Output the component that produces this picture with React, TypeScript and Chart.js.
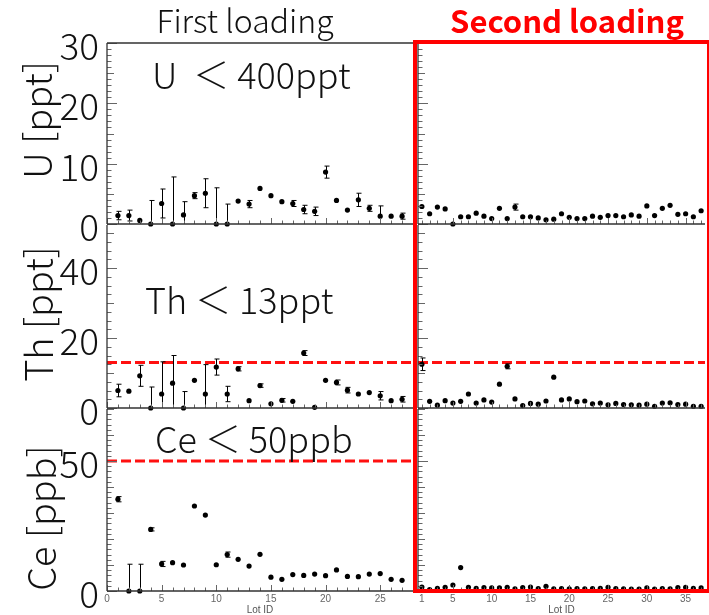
import React, { useEffect, useRef } from 'react';
import { Chart, registerables } from 'chart.js';

Chart.register(...registerables);

const W = 709;
const H = 615;
const FONT = '"Noto Sans CJK JP", "Noto Sans", sans-serif';
const SMALL_FONT = '"Liberation Sans", Arial, sans-serif';

// ---- categories ----
const lotsFirst = [1, 2, 3, 4, 5, 6, 7, 8, 9, 10, 11, 12, 13, 14, 15, 16, 17, 18, 19, 20, 21, 22, 23, 24, 25, 26, 27];
const lotsSecond = [1, 2, 3, 4, 5, 6, 7, 8, 9, 10, 11, 12, 13, 14, 15, 16, 17, 18, 19, 20, 21, 22, 23, 24, 25, 26, 27, 28, 29, 30, 31, 32, 33, 34, 35, 36, 37];

// ---- tick labels ----
const xTickLabelsFirst = [0, 5, 10, 15, 20, 25];
const xTickLabelsSecond = [1, 5, 10, 15, 20, 25, 30, 35];
const uTickLabels = [0, 10, 20, 30];
const thTickLabels = [0, 20, 40];
const ceTickLabels = [0, 50];

// ---- limits ----
const thLimit = 13;
const ceLimit = 50;

// ---- U [ppt] ----
const uFirst = [1.4, 1.4, 0.6, 0, 3.4, 0, 1.5, 4.7, 5.1, 0, 0, 3.8, 3.3, 5.9, 4.7, 3.7, 3.4, 2.4, 2.1, 8.6, 3.9, 2.3, 4.0, 2.6, 1.3, 1.3, 1.3];
const uFirstErr = [0.7, 0.9, 0, 3.9, 2.4, 7.8, 2.2, 0.5, 2.4, 6.0, 3.3, 0, 0.6, 0, 0, 0, 0.5, 0.7, 0.7, 1.0, 0, 0, 1.1, 0.5, 1.7, 0, 0.5];
const uSecond = [2.9, 1.7, 2.8, 2.5, 0, 1.2, 1.2, 1.8, 1.3, 0.9, 2.6, 0.9, 2.8, 1.2, 1.2, 1.0, 0.7, 0.8, 1.7, 1.1, 0.9, 0.9, 1.3, 1.1, 1.4, 1.4, 1.2, 1.5, 1.3, 3.0, 1.4, 2.6, 3.1, 1.6, 1.7, 1.2, 2.2];
const uSecondErr = [0, 0, 0, 0, 0, 0, 0, 0, 0, 0, 0, 0, 0.5, 0, 0, 0, 0, 0, 0, 0, 0, 0, 0, 0, 0, 0, 0, 0, 0, 0, 0, 0, 0, 0, 0, 0, 0];

// ---- Th [ppt] ----
const thFirst = [5.0, 4.8, 9.2, 0, 4.0, 7.1, 0, 7.9, 4.0, 11.7, 4.0, 11.2, 2.1, 6.4, 1.2, 2.2, 1.9, 15.7, 0.2, 7.9, 7.3, 5.1, 4.0, 4.4, 3.5, 2.1, 2.5];
const thFirstErr = [1.8, 0, 3.0, 6.0, 9.2, 7.9, 4.7, 0, 8.4, 2.3, 2.2, 0.6, 0, 0.5, 0, 0.5, 0, 0.7, 0, 0, 0.7, 0.8, 0, 0, 1.2, 0, 0.8];
const thSecond = [12.5, 1.9, 0.8, 2.1, 1.4, 1.9, 4.0, 1.4, 2.3, 1.7, 6.8, 11.9, 2.6, 0.7, 1.3, 1.1, 2.0, 8.8, 2.3, 2.6, 1.8, 2.0, 1.2, 1.4, 0.9, 1.3, 1.0, 0.9, 0.8, 1.1, 0.5, 1.4, 1.5, 1.0, 1.1, 0.5, 0.5];
const thSecondErr = [1.8, 0, 0, 0, 0, 0, 0, 0, 0, 0, 0, 0.7, 0, 0, 0, 0, 0, 0, 0, 0, 0, 0, 0, 0, 0, 0, 0, 0, 0, 0, 0, 0, 0, 0, 0, 0, 0];

// ---- Ce [ppb] ----
const ceFirst = [35.3, 0, 0, 23.7, 10.4, 10.9, 10.0, 32.7, 29.2, 10.1, 14.0, 12.2, 9.6, 14.1, 5.3, 4.5, 6.3, 6.0, 6.5, 5.9, 8.1, 5.6, 5.5, 6.5, 6.7, 4.5, 4.1];
const ceFirstErr = [1.0, 10.3, 10.3, 0.6, 1.0, 0, 0, 0, 0, 0, 1.0, 0, 0, 0, 0, 0, 0, 0, 0, 0, 0, 0, 0, 0, 0, 0, 0];
const ceSecond = [1.5, 0.5, 1.0, 1.4, 2.3, 9.0, 1.4, 1.0, 1.3, 1.2, 1.2, 1.4, 0.8, 1.3, 1.5, 0.9, 1.8, 0.8, 0.9, 0.8, 0.9, 0.8, 0.9, 1.0, 1.4, 0.9, 0.8, 0.7, 0.7, 1.2, 0.7, 0.9, 0.8, 1.3, 1.4, 1.0, 1.2];
const ceSecondErr = [0, 0, 0, 0, 0, 0, 0, 0, 0, 0, 0, 0, 0, 0, 0, 0, 0, 0, 0, 0, 0, 0, 0, 0, 0, 0, 0, 0, 0, 0, 0, 0, 0, 0, 0, 0, 0];

// ---- layout (pixels of the plot areas) ----
const ROWS = [
  { top: 43, bottom: 224 },
  { top: 225, bottom: 408 },
  { top: 409, bottom: 591 },
];
const COLS = [
  { left: 107, right: 413, xMin: 0, xMax: 28 },
  { left: 418, right: 709, xMin: 0.5, xMax: 37.5 },
];

type PanelSpec = {
  col: number;
  row: number;
  lots: number[];
  values: number[];
  errors: number[];
  yMax: number;
  yLabels: number[];
  yMinor: number;
  yMid: number;
  yMajor: number;
  xLabels: number[];
  limit?: number;
};

const PANELS: PanelSpec[] = [
  { col: 0, row: 0, lots: lotsFirst, values: uFirst, errors: uFirstErr, yMax: 30, yLabels: uTickLabels, yMinor: 1, yMid: 5, yMajor: 10, xLabels: xTickLabelsFirst },
  { col: 1, row: 0, lots: lotsSecond, values: uSecond, errors: uSecondErr, yMax: 30, yLabels: uTickLabels, yMinor: 1, yMid: 5, yMajor: 10, xLabels: xTickLabelsSecond },
  { col: 0, row: 1, lots: lotsFirst, values: thFirst, errors: thFirstErr, yMax: 52.3, yLabels: thTickLabels, yMinor: 2.5, yMid: 10, yMajor: 20, xLabels: xTickLabelsFirst, limit: thLimit },
  { col: 1, row: 1, lots: lotsSecond, values: thSecond, errors: thSecondErr, yMax: 52.3, yLabels: thTickLabels, yMinor: 2.5, yMid: 10, yMajor: 20, xLabels: xTickLabelsSecond, limit: thLimit },
  { col: 0, row: 2, lots: lotsFirst, values: ceFirst, errors: ceFirstErr, yMax: 70, yLabels: ceTickLabels, yMinor: 2, yMid: 10, yMajor: 50, xLabels: xTickLabelsFirst, limit: ceLimit },
  { col: 1, row: 2, lots: lotsSecond, values: ceSecond, errors: ceSecondErr, yMax: 70, yLabels: ceTickLabels, yMinor: 2, yMid: 10, yMajor: 50, xLabels: xTickLabelsSecond },
];

const errorBarPlugin = {
  id: 'errorBars',
  afterDatasetsDraw(chart: any) {
    const ctx = chart.ctx;
    chart.data.datasets.forEach((ds: any, i: number) => {
      if (!ds.errors) return;
      const meta = chart.getDatasetMeta(i);
      const ys = chart.scales[meta.yAxisID];
      ctx.save();
      ctx.strokeStyle = '#000';
      ctx.lineWidth = 1;
      meta.data.forEach((pt: any, j: number) => {
        const e = ds.errors[j];
        if (!e) return;
        const v = ds.data[j].y;
        const lo = Math.max(ys.min, v - e);
        const hi = Math.min(ys.max, v + e);
        const x = Math.round(pt.x) + 0.5;
        const y1 = ys.getPixelForValue(lo);
        const y2 = ys.getPixelForValue(hi);
        ctx.beginPath();
        ctx.moveTo(x, y1);
        ctx.lineTo(x, y2);
        ctx.moveTo(x - 2, y2);
        ctx.lineTo(x + 3, y2);
        if (lo > ys.min) {
          ctx.moveTo(x - 2, y1);
          ctx.lineTo(x + 3, y1);
        }
        ctx.stroke();
      });
      ctx.restore();
    });
  },
};

const framePlugin = {
  id: 'rootFrame',
  afterDatasetsDraw(chart: any, _args: any, opts: any) {
    const { ctx, chartArea: a } = chart;
    const xs = chart.scales.x;
    const ys = chart.scales.y;
    ctx.save();
    ctx.strokeStyle = '#666';
    ctx.lineWidth = 1;
    ctx.beginPath();
    for (let v = Math.ceil(xs.min); v <= xs.max + 1e-9; v += 1) {
      const px = Math.round(xs.getPixelForValue(v)) + 0.5;
      const len = v % 5 === 0 ? 6 : 3.5;
      ctx.moveTo(px, a.bottom);
      ctx.lineTo(px, a.bottom - len);
    }
    const n = Math.floor((ys.max - ys.min) / opts.yMinor + 1e-6);
    for (let k = 0; k <= n; k++) {
      const v = ys.min + k * opts.yMinor;
      const py = Math.round(ys.getPixelForValue(v)) + 0.5;
      const isMajor = Math.abs(v / opts.yMajor - Math.round(v / opts.yMajor)) < 1e-6;
      const isMid = Math.abs(v / opts.yMid - Math.round(v / opts.yMid)) < 1e-6;
      const len = isMajor ? 10 : isMid ? 7 : 4.5;
      ctx.moveTo(a.left, py);
      ctx.lineTo(a.left + len, py);
    }
    ctx.stroke();
    ctx.strokeStyle = '#333';
    ctx.lineWidth = 1.3;
    ctx.beginPath();
    ctx.moveTo(a.left, a.bottom);
    ctx.lineTo(a.right, a.bottom);
    ctx.moveTo(a.left, a.top);
    ctx.lineTo(a.left, a.bottom);
    if (opts.top) {
      ctx.moveTo(a.left, a.top);
      ctx.lineTo(a.right, a.top);
    }
    ctx.stroke();
    ctx.restore();
  },
};

function buildConfig(p: PanelSpec): any {
  const c = COLS[p.col];
  const r = ROWS[p.row];
  const isLeft = p.col === 0;
  const isBottom = p.row === 2;
  const datasets: any[] = [
    {
      type: 'scatter',
      data: p.lots.map((l, i) => ({ x: l, y: p.values[i] })),
      errors: p.errors,
      pointRadius: 2.6,
      pointBackgroundColor: '#000',
      pointBorderWidth: 0,
      clip: false,
      order: 0,
    },
  ];
  if (p.limit !== undefined) {
    datasets.push({
      type: 'line',
      data: [
        { x: c.xMin, y: p.limit },
        { x: c.xMax, y: p.limit },
      ],
      borderColor: '#ff1010',
      borderWidth: 3,
      borderDash: [10, 4],
      pointRadius: 0,
      fill: false,
      clip: false,
      order: 1,
    });
  }
  return {
    type: 'scatter',
    data: { datasets },
    options: {
      responsive: false,
      maintainAspectRatio: false,
      animation: false,
      events: [],
      layout: {
        padding: {
          left: isLeft ? 0 : c.left,
          right: W - c.right,
          top: r.top,
          bottom: isBottom ? 0 : H - r.bottom,
        },
      },
      plugins: {
        legend: { display: false },
        tooltip: { enabled: false },
        rootFrame: { yMinor: p.yMinor, yMid: p.yMid, yMajor: p.yMajor, top: p.row === 0 && isLeft },
      },
      scales: {
        x: {
          type: 'linear',
          min: c.xMin,
          max: c.xMax,
          display: isBottom,
          grid: { display: false, drawTicks: false },
          border: { display: false },
          afterBuildTicks: (s: any) => {
            const t: any[] = [];
            for (let v = Math.ceil(c.xMin); v <= c.xMax; v++) t.push({ value: v });
            s.ticks = t;
          },
          afterFit: (s: any) => {
            s.height = isBottom ? H - r.bottom : 0;
          },
          ticks: {
            autoSkip: false,
            maxRotation: 0,
            minRotation: 0,
            padding: 3,
            color: '#666',
            font: { family: SMALL_FONT, size: 10, lineHeight: 1 },
            callback: (v: any) => (p.xLabels.includes(Number(v)) ? String(v) : ''),
          },
          title: {
            display: true,
            text: 'Lot ID',
            color: '#555',
            font: { family: SMALL_FONT, size: 10, lineHeight: 1 },
            padding: { top: 0, bottom: 0 },
          },
        },
        y: {
          type: 'linear',
          min: 0,
          max: p.yMax,
          display: isLeft,
          grid: { display: false, drawTicks: false },
          border: { display: false },
          afterBuildTicks: (s: any) => {
            s.ticks = p.yLabels.map((v) => ({ value: v }));
          },
          afterFit: (s: any) => {
            s.width = isLeft ? c.left : 0;
            s.paddingTop = 0;
            s.paddingBottom = 0;
          },
          ticks: {
            padding: 8,
            labelOffset: 3,
            color: '#111',
            font: { family: FONT, size: 37, weight: '300', lineHeight: 1 },
            callback: (v: any) => String(v),
          },
        },
      },
    },
    plugins: [errorBarPlugin, framePlugin],
  };
}

const yTitle = (text: string, cx: number, cy: number) => (
  <div
    style={{
      position: 'absolute',
      left: cx,
      top: cy,
      transform: 'translate(-50%, -50%) rotate(-90deg)',
      whiteSpace: 'nowrap',
      fontSize: 38,
      fontWeight: 300,
      lineHeight: '38px',
      color: '#111',
    }}
  >
    {text}
  </div>
);

const note = (text: string, left: number, top: number) => (
  <div
    style={{
      position: 'absolute',
      left,
      top,
      whiteSpace: 'pre',
      fontSize: 36,
      fontWeight: 300,
      lineHeight: '36px',
      color: '#111',
    }}
  >
    {text}
  </div>
);

export default function App() {
  const canvases = useRef<(HTMLCanvasElement | null)[]>([]);

  useEffect(() => {
    const charts = PANELS.map((p, i) => new Chart(canvases.current[i] as HTMLCanvasElement, buildConfig(p)));
    return () => charts.forEach((ch) => ch.destroy());
  }, []);

  return (
    <div
      style={{
        position: 'fixed',
        left: 0,
        top: 0,
        width: W,
        height: H,
        background: '#fff',
        overflow: 'hidden',
        fontFamily: FONT,
      }}
    >
      {PANELS.map((_, i) => (
        <canvas
          key={i}
          ref={(el) => {
            canvases.current[i] = el;
          }}
          width={W}
          height={H}
          style={{ position: 'absolute', left: 0, top: 0, width: W, height: H }}
        />
      ))}
      <div
        style={{
          position: 'absolute',
          left: 413,
          top: 40,
          width: 296,
          height: 553,
          boxSizing: 'border-box',
          borderStyle: 'solid',
          borderColor: '#ff0000',
          borderWidth: '4px 2px 4px 4px',
        }}
      />
      <div
        style={{
          position: 'absolute',
          left: 245,
          top: 0,
          transform: 'translateX(-50%)',
          whiteSpace: 'nowrap',
          fontSize: 32,
          fontWeight: 300,
          lineHeight: '38px',
          color: '#111',
        }}
      >
        First loading
      </div>
      <div
        style={{
          position: 'absolute',
          left: 567,
          top: 1,
          transform: 'translateX(-50%)',
          whiteSpace: 'nowrap',
          fontSize: 31,
          fontWeight: 700,
          lineHeight: '38px',
          color: '#ff0000',
        }}
      >
        Second loading
      </div>
      {yTitle('U [ppt]', 36, 120)}
      {yTitle('Th [ppt]', 37, 314)}
      {yTitle('Ce [ppb]', 40, 518)}
      {note('U  ＜ 400ppt', 152, 55)}
      {note('Th ＜ 13ppt', 145, 280)}
      {note('Ce ＜ 50ppb', 155, 419)}
    </div>
  );
}
